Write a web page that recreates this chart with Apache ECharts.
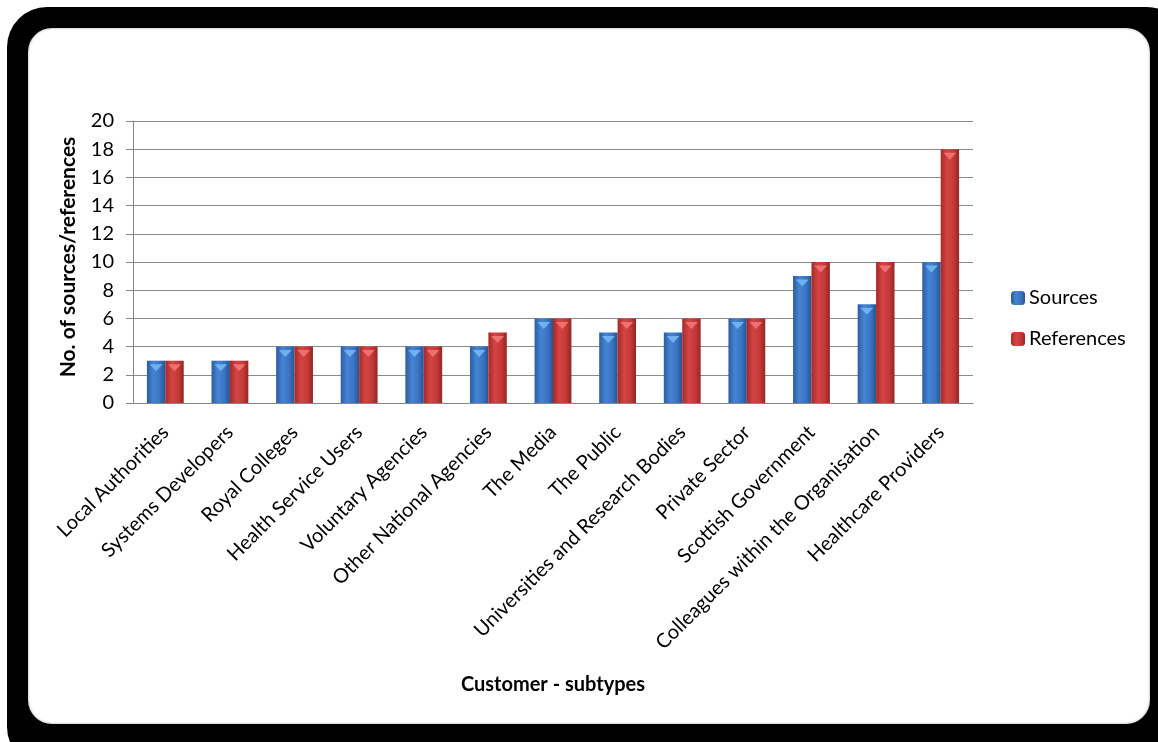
<!DOCTYPE html>
<html>
<head>
<meta charset="utf-8">
<script src="https://cdn.jsdelivr.net/npm/echarts@6/dist/echarts.min.js"></script>
<style>
  html, body { margin: 0; padding: 0; background: #ffffff; width: 1158px; height: 742px; overflow: hidden; position: relative; }
  #outer { position: absolute; left: 7px; top: 7px; width: 1180px; height: 760px; background: #000; border-radius: 40px; }
  #inner { position: absolute; left: 28px; top: 28px; width: 1122px; height: 696px; background: #fff; border-radius: 24px; box-shadow: inset 0 0 3px rgba(0,0,0,0.35); }
  #chart { position: absolute; left: 0; top: 0; width: 1158px; height: 742px; }
</style>
</head>
<body>
<div id="outer"></div>
<div id="inner"></div>
<div id="chart"></div>
<script>
const categories = ['Local Authorities', 'Systems Developers', 'Royal Colleges', 'Health Service Users', 'Voluntary Agencies', 'Other National Agencies', 'The Media', 'The Public', 'Universities and Research Bodies', 'Private Sector', 'Scottish Government', 'Colleagues within the Organisation', 'Healthcare Providers'];
const sources = [3, 3, 4, 4, 4, 4, 6, 5, 5, 6, 9, 7, 10];
const references = [3, 3, 4, 4, 4, 5, 6, 6, 6, 6, 10, 10, 18];
const yTicks = [0, 2, 4, 6, 8, 10, 12, 14, 16, 18, 20];

const FONT = 'Lato';
const blueGrad = new echarts.graphic.LinearGradient(0, 0, 1, 0, [
  { offset: 0, color: '#2c5c9f' },
  { offset: 0.35, color: '#4584d4' },
  { offset: 0.7, color: '#3a74c2' },
  { offset: 1, color: '#28548f' }
]);
const redGrad = new echarts.graphic.LinearGradient(0, 0, 1, 0, [
  { offset: 0, color: '#a42a28' },
  { offset: 0.35, color: '#d44443' },
  { offset: 0.7, color: '#c43a38' },
  { offset: 1, color: '#962523' }
]);

const chart = echarts.init(document.getElementById('chart'), null, { renderer: 'canvas' });
const barCatGap = '43%';
chart.setOption({
  backgroundColor: 'transparent',
  animation: false,
  textStyle: { fontFamily: FONT },
  grid: { left: 133, right: 185, top: 121, bottom: 339, containLabel: false },
  legend: {
    data: ['Sources', 'References'],
    orient: 'vertical',
    left: 1011,
    top: 288,
    padding: 0,
    itemWidth: 14,
    itemHeight: 14,
    itemGap: 21,
    textStyle: { fontFamily: FONT, fontSize: 20, color: '#000', padding: [0, 0, 0, -1] }
  },
  xAxis: {
    type: 'category',
    data: categories,
    name: 'Customer - subtypes',
    nameLocation: 'middle',
    nameGap: 272,
    nameTextStyle: { fontFamily: FONT, fontSize: 20, fontWeight: 'bold', color: '#000' },
    axisLine: { show: true, lineStyle: { color: '#868686', width: 1 } },
    axisTick: { show: false },
    axisLabel: { rotate: 45, interval: 0, margin: 26, fontFamily: FONT, fontSize: 20, color: '#000' }
  },
  yAxis: {
    type: 'value',
    min: 0,
    max: 20,
    interval: 2,
    name: 'No. of sources/references',
    nameLocation: 'middle',
    nameGap: 54,
    nameTextStyle: { fontFamily: FONT, fontSize: 21, fontWeight: 'bold', color: '#000', padding: [0, 0, 0, 10] },
    axisLine: { show: true, lineStyle: { color: '#868686', width: 1 } },
    axisTick: { show: true, length: 7, lineStyle: { color: '#868686' } },
    splitLine: { show: true, lineStyle: { color: '#8a8a8a', width: 1 } },
    axisLabel: {
      margin: 19, fontFamily: FONT, fontSize: 20, color: '#000',
      formatter: function (v) { return yTicks.indexOf(v) >= 0 ? String(v) : ''; }
    }
  },
  series: [
    { name: 'Sources', type: 'bar', data: sources, barGap: '0%', barCategoryGap: barCatGap, itemStyle: { color: blueGrad } },
    { name: 'References', type: 'bar', data: references, barGap: '0%', barCategoryGap: barCatGap, itemStyle: { color: redGrad } },
    { name: 'srcTop', type: 'pictorialBar', data: sources, barGap: '0%', barCategoryGap: barCatGap, symbol: 'triangle', symbolRotate: 180, symbolPosition: 'end', symbolSize: ['70%', 7], symbolOffset: [0, '50%'], itemStyle: { color: '#6fb0f0' }, z: 3, silent: true },
    { name: 'refTop', type: 'pictorialBar', data: references, barGap: '0%', barCategoryGap: barCatGap, symbol: 'triangle', symbolRotate: 180, symbolPosition: 'end', symbolSize: ['70%', 7], symbolOffset: [0, '50%'], itemStyle: { color: '#ee7070' }, z: 3, silent: true }
  ]
});
</script>
</body>
</html>
